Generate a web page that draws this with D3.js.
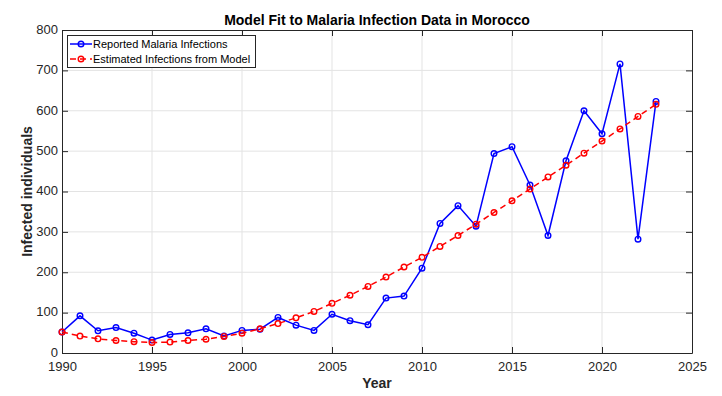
<!DOCTYPE html>
<html><head><meta charset="utf-8">
<script src="https://cdn.jsdelivr.net/npm/d3@7"></script>
<style>body{margin:0;background:#fff}svg{display:block;font-family:"Liberation Sans",Arial,sans-serif}</style>
</head><body><svg id="c" width="722" height="396"></svg>
<script>
const years = d3.range(1990, 2024);
const reported = [52,92,55,63,49,32,46,50,60,42,56,59,88,69,56,96,80,70,136,141,210,321,365,314,494,511,416,291,476,600,543,716,282,623];
const estimated = [52,42,35,31,28,26,27,31,34,41,49,60,73,87,103,123,143,165,188,213,237,264,291,319,348,377,406,436,465,495,525,555,586,616];
const xTicks = [1990,1995,2000,2005,2010,2015,2020,2025];
const yTicks = [0,100,200,300,400,500,600,700,800];
const seriesNames = ["Reported Malaria Infections","Estimated Infections from Model"];

const svg = d3.select("#c");
const L=62,R=692,T=30,B=353;
const x = d3.scaleLinear().domain([1990,2025]).range([L,R]);
const y = d3.scaleLinear().domain([0,800]).range([B,T]);

// grid
svg.append("g").selectAll("line").data(xTicks.slice(1,-1)).join("line")
  .attr("x1",d=>x(d)).attr("x2",d=>x(d)).attr("y1",T).attr("y2",B)
  .attr("stroke","#e3e3e3").attr("stroke-width",1);
svg.append("g").selectAll("line").data(yTicks.slice(1,-1)).join("line")
  .attr("y1",d=>y(d)).attr("y2",d=>y(d)).attr("x1",L).attr("x2",R)
  .attr("stroke","#e3e3e3").attr("stroke-width",1);

// axes
const ax = svg.append("g").attr("transform",`translate(0,${B})`)
  .call(d3.axisBottom(x).tickValues(xTicks).tickFormat(d3.format("d")).tickSizeInner(-6).tickSizeOuter(0).tickPadding(9));
const ay = svg.append("g").attr("transform",`translate(${L},0)`)
  .call(d3.axisLeft(y).tickValues(yTicks).tickSizeInner(-6).tickSizeOuter(0).tickPadding(4));
const axT = svg.append("g").attr("transform",`translate(0,${T})`)
  .call(d3.axisTop(x).tickValues(xTicks).tickSizeInner(-6).tickSizeOuter(0).tickFormat(""));
const ayR = svg.append("g").attr("transform",`translate(${R},0)`)
  .call(d3.axisRight(y).tickValues(yTicks).tickSizeInner(-6).tickSizeOuter(0).tickFormat(""));
[ax,ay,axT,ayR].forEach(g=>{
  g.selectAll("path").attr("stroke","#262626").attr("stroke-width",1);
  g.selectAll("line").attr("stroke","#262626");
  g.selectAll("text").attr("font-size",13).attr("fill","#262626").attr("font-family","Liberation Sans, Arial, sans-serif");
});
ay.selectAll("text").attr("dy","0.25em");

// lines
const line = d3.line().x((d,i)=>x(years[i])).y(d=>y(d));
svg.append("path").datum(reported).attr("d",line).attr("fill","none").attr("stroke","#0000ff").attr("stroke-width",1.5);
svg.append("g").selectAll("circle").data(reported).join("circle")
  .attr("cx",(d,i)=>x(years[i])).attr("cy",d=>y(d)).attr("r",2.8)
  .attr("fill","none").attr("stroke","#0000ff").attr("stroke-width",1.4);
svg.append("path").datum(estimated).attr("d",line).attr("fill","none").attr("stroke","#ff0000").attr("stroke-width",1.5).attr("stroke-dasharray","6,4");
svg.append("g").selectAll("circle").data(estimated).join("circle")
  .attr("cx",(d,i)=>x(years[i])).attr("cy",d=>y(d)).attr("r",2.8)
  .attr("fill","none").attr("stroke","#ff0000").attr("stroke-width",1.4);

// title and labels
svg.append("text").attr("x",(L+R)/2).attr("y",25).attr("text-anchor","middle")
  .attr("font-size",14).attr("font-weight","bold").attr("fill","#000").text("Model Fit to Malaria Infection Data in Morocco");
svg.append("text").attr("x",(L+R)/2).attr("y",388).attr("text-anchor","middle")
  .attr("font-size",14).attr("font-weight","bold").attr("fill","#262626").text("Year");
svg.append("text").attr("transform",`translate(32,${(T+B)/2}) rotate(-90)`).attr("text-anchor","middle")
  .attr("font-size",14).attr("font-weight","bold").attr("fill","#262626").text("Infected individuals");

// legend
const lg = svg.append("g");
lg.append("rect").attr("x",67.5).attr("y",35.5).attr("width",188).attr("height",32)
  .attr("fill","#fff").attr("stroke","#262626").attr("stroke-width",1);
const cols=["#0000ff","#ff0000"];
seriesNames.forEach((n,i)=>{
  const yy = 44+i*15;
  lg.append("line").attr("x1",70).attr("x2",92).attr("y1",yy).attr("y2",yy)
    .attr("stroke",cols[i]).attr("stroke-width",1.5).attr("stroke-dasharray",i?"6,4":null);
  lg.append("circle").attr("cx",81).attr("cy",yy).attr("r",2.8).attr("fill","none").attr("stroke",cols[i]).attr("stroke-width",1.4);
  lg.append("text").attr("x",93).attr("y",yy+4).attr("font-size",11).attr("fill","#000").text(n);
});
</script></body></html>
